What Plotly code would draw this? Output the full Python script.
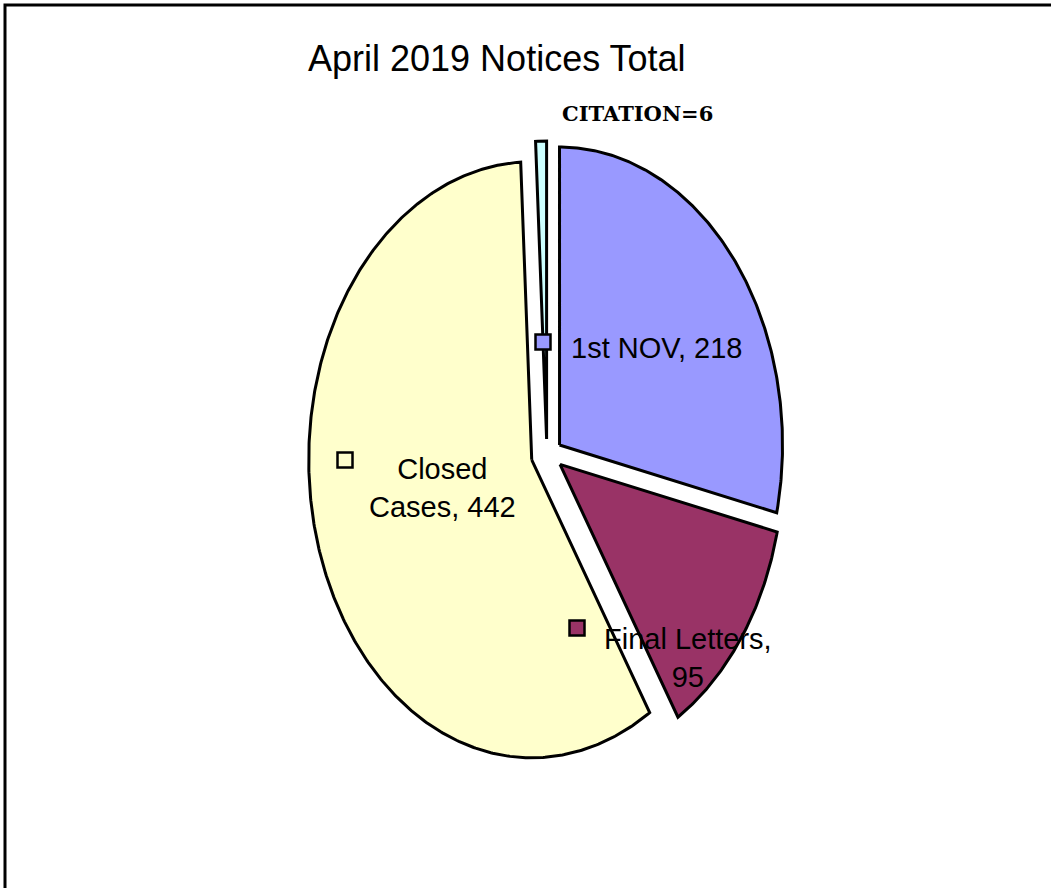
import numpy as np
import plotly.graph_objects as go

# ---- data ----
categories = ["1st NOV", "Final Letters", "Closed Cases", "CITATION"]
values = [218, 95, 442, 6]
colors = ["#9999FF", "#993366", "#FFFFCC", "#CCFFFF"]
title = "April 2019 Notices Total"

# ---- layout geometry (pixel space, y downward) ----
W, H = 1051, 888
cx, cy = 547, 455
ra, rb = 223, 298
explode = 16

fig = go.Figure()

total = sum(values)
start = 0.0
for cat, val, col in zip(categories, values, colors):
    sweep = 360.0 * val / total
    t = np.radians(np.linspace(start, start + sweep, max(int(sweep * 2), 2) + 1))
    mid = np.radians(start + sweep / 2)
    ox = cx + explode * np.sin(mid)
    oy = cy - explode * np.cos(mid)
    xs = np.concatenate([[ox], ox + ra * np.sin(t), [ox]])
    ys = np.concatenate([[oy], oy - rb * np.cos(t), [oy]])
    fig.add_trace(go.Scatter(
        x=xs, y=ys, mode="lines", fill="toself", fillcolor=col,
        line=dict(color="black", width=3), name=cat, hoverinfo="name",
        showlegend=False,
    ))
    start += sweep

label_font = dict(family="Liberation Sans, Arial, sans-serif", size=29, color="black")

# data labels with legend keys
labels = [
    (f"{categories[0]}, {values[0]}", 656, 348, 543, 342, colors[0]),
    (f"{categories[1]},<br>{values[1]}", 688, 658, 577, 628, colors[1]),
    (f"Closed<br>Cases, {values[2]}", 442, 488, 345, 460, colors[2]),
]
for txt, tx, ty, kx, ky, col in labels:
    fig.add_annotation(x=tx, y=ty, text=txt, showarrow=False, font=label_font,
                       xref="x", yref="y", align="center")
    fig.add_trace(go.Scatter(x=[kx], y=[ky], mode="markers",
                             marker=dict(symbol="square", size=15, color=col,
                                         line=dict(color="black", width=2.5)),
                             showlegend=False, hoverinfo="skip"))

fig.add_annotation(x=637, y=113, text=f"<b>{categories[3]}={values[3]}</b>", showarrow=False,
                   font=dict(family="DejaVu Serif", size=21, color="black"), xref="x", yref="y")

fig.add_annotation(x=497, y=58, text=title, showarrow=False,
                   font=dict(family="Liberation Sans, Arial, sans-serif", size=36, color="black"),
                   xref="x", yref="y")

# chart border
fig.add_shape(type="rect", x0=5, y0=5, x1=1070, y1=910, xref="x", yref="y",
              line=dict(color="black", width=3), fillcolor="rgba(0,0,0,0)", layer="above")

fig.update_layout(
    width=W, height=H, margin=dict(l=0, r=0, t=0, b=0),
    paper_bgcolor="white", plot_bgcolor="white",
    xaxis=dict(range=[0, W], visible=False, fixedrange=True),
    yaxis=dict(range=[H, 0], visible=False, fixedrange=True),
    showlegend=False,
)

fig.write_html("out.html", config={"displayModeBar": False},
               post_script="document.body.style.margin='0';")
